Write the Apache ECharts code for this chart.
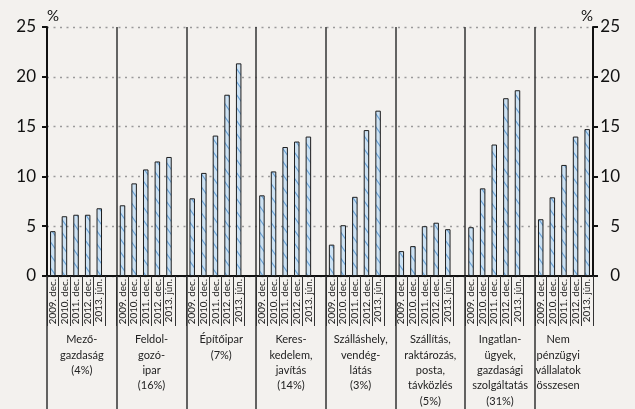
<!DOCTYPE html>
<html>
<head>
<meta charset="utf-8">
<script src="https://cdn.jsdelivr.net/npm/echarts@6/dist/echarts.min.js"></script>
<style>
  html, body { margin: 0; padding: 0; background: #f3f1ee; }
  #chart { width: 635px; height: 409px; }
</style>
</head>
<body>
<div id="chart"></div>
<script>
const periods = ['2009. dec.', '2010. dec.', '2011. dec.', '2012. dec.', '2013. jún.']

const groupNames = [
  'Mező-\ngazdaság\n(4%)',
  'Feldol-\ngozó-\nipar\n(16%)',
  'Építőipar\n(7%)',
  'Keres-\nkedelem,\njavítás\n(14%)',
  'Szálláshely,\nvendég-\nlátás\n(3%)',
  'Szállítás,\nraktározás,\nposta,\ntávközlés\n(5%)',
  'Ingatlan-\nügyek,\ngazdasági\nszolgáltatás\n(31%)',
  'Nem\npénzügyi\nvállalatok\nösszesen'
]

const mezogazdasag = [4.5, 6.0, 6.15, 6.15, 6.8]
const feldolgozoipar = [7.1, 9.3, 10.7, 11.5, 11.95]
const epitoipar = [7.8, 10.35, 14.1, 18.2, 21.35]
const kereskedelem = [8.1, 10.5, 12.95, 13.5, 14.0]
const szallashely = [3.15, 5.1, 7.95, 14.65, 16.6]
const szallitas = [2.5, 3.0, 5.0, 5.35, 4.7]
const ingatlan = [4.9, 8.8, 13.2, 17.85, 18.65]
const osszesen = [5.7, 7.9, 11.15, 14.0, 14.75]

const groupValues = [mezogazdasag, feldolgozoipar, epitoipar, kereskedelem,
  szallashely, szallitas, ingatlan, osszesen]

// flatten: 5 bars + one empty slot per group (none after the last)
const categories = []
const values = []
groupValues.forEach((g, gi) => {
  g.forEach((v, i) => {
    categories.push(periods[i])
    values.push(v)
  })
  if (gi < groupValues.length - 1) {
    categories.push('')
    values.push(null)
  }
})
const slotCount = categories.length

const groupEdges = groupValues.map((g, gi) => gi * 6)
const groupCenters = groupValues.map((g, gi) => gi < groupValues.length - 1 ? gi * 6 + 3 : gi * 6 + 2)

const nameAt = (v) => {
  let best = 0
  groupCenters.forEach((c, i) => {
    if (Math.abs(c - v) < Math.abs(groupCenters[best] - v)) best = i
  })
  return groupNames[best]
}

// hatched fill for bars
const makePattern = () => {
  const c = document.createElement('canvas')
  c.width = 9
  c.height = 13
  const ctx = c.getContext('2d')
  ctx.fillStyle = '#cde2f3'
  ctx.fillRect(0, 0, 9, 13)
  ctx.strokeStyle = '#6aa2d6'
  ctx.lineWidth = 1.1
  ctx.beginPath()
  ctx.moveTo(-9, -13); ctx.lineTo(18, 26)
  ctx.moveTo(-9, 0); ctx.lineTo(9, 26)
  ctx.moveTo(0, -13); ctx.lineTo(18, 13)
  ctx.stroke()
  return c
}

const font = 'Lato'
const chart = echarts.init(document.getElementById('chart'))

const option = {
  backgroundColor: '#f3f1ee',
  animation: false,
  textStyle: { fontFamily: font },
  grid: { left: 47, right: 42, top: 27, bottom: 133 },
  xAxis: [
    {
      type: 'category',
      data: categories,
      axisLine: { lineStyle: { color: '#111', width: 2 } },
      axisTick: { show: true, interval: 0, length: 50, lineStyle: { color: '#333', width: 1 } },
      axisLabel: { interval: 0, rotate: 90, fontSize: 9.8, color: '#1a1a1a', margin: 3, fontFamily: font },
      splitLine: {
        show: true,
        interval: (i) => i > 0 && i % 6 === 0,
        lineStyle: { color: '#333', width: 1.5 }
      }
    },
    {
      type: 'value',
      min: 0,
      max: slotCount,
      position: 'bottom',
      axisLine: { show: false },
      splitLine: { show: false },
      axisTick: {
        show: true,
        customValues: groupEdges,
        length: 133,
        lineStyle: { color: '#333', width: 1.5 }
      },
      axisLabel: {
        customValues: groupCenters,
        formatter: (v) => nameAt(v),
        fontSize: 11,
        lineHeight: 15.4,
        color: '#222',
        margin: 56,
        hideOverlap: false,
        showMinLabel: true,
        showMaxLabel: true,
        fontFamily: font
      }
    }
  ],
  yAxis: [
    {
      type: 'value',
      min: 0,
      max: 25,
      interval: 5,
      position: 'left',
      name: '%',
      nameLocation: 'end',
      nameGap: 3,
      nameTextStyle: { fontSize: 15, color: '#111', align: 'left', fontFamily: font },
      axisLine: { show: true, lineStyle: { color: '#111', width: 2 } },
      axisTick: { show: true, length: 5, lineStyle: { color: '#111', width: 2 } },
      axisLabel: { fontSize: 17, color: '#111', margin: 11, fontFamily: font },
      splitLine: { show: true, lineStyle: { color: '#9a9a9a', width: 1.3, type: [2, 4.5] } }
    },
    {
      type: 'value',
      min: 0,
      max: 25,
      interval: 5,
      position: 'right',
      name: '%',
      nameLocation: 'end',
      nameGap: 3,
      nameTextStyle: { fontSize: 15, color: '#111', align: 'right', fontFamily: font },
      axisLine: { show: true, lineStyle: { color: '#111', width: 2 } },
      axisTick: { show: true, length: 5, lineStyle: { color: '#111', width: 2 } },
      axisLabel: { fontSize: 17, color: '#111', margin: 27, align: 'right', fontFamily: font },
      splitLine: { show: false }
    }
  ],
  series: [
    {
      type: 'bar',
      xAxisIndex: 0,
      yAxisIndex: 0,
      data: values,
      barWidth: 5.5,
      itemStyle: {
        color: { image: makePattern(), repeat: 'repeat' },
        borderColor: '#1e1e1e',
        borderWidth: 1
      }
    }
  ]
}

chart.setOption(option)
</script>
</body>
</html>
